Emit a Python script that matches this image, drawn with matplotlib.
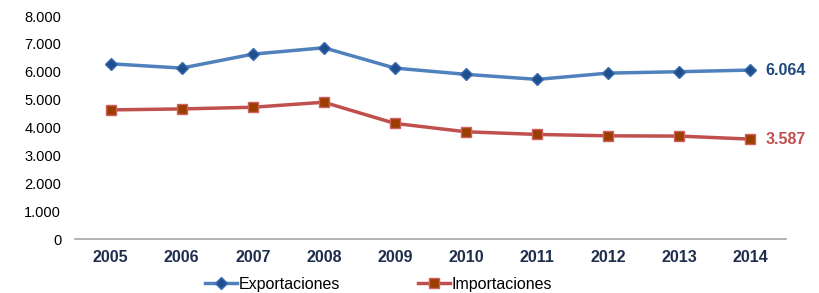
import matplotlib.pyplot as plt
from matplotlib.ticker import FuncFormatter

years = ['2005', '2006', '2007', '2008', '2009', '2010', '2011', '2012', '2013', '2014']
exportaciones = [6290, 6135, 6635, 6865, 6135, 5910, 5730, 5955, 6005, 6064]
importaciones = [4635, 4670, 4730, 4910, 4150, 3850, 3755, 3705, 3695, 3587]

plt.rcParams['font.family'] = ['Liberation Sans', 'DejaVu Sans']

fig = plt.figure(figsize=(8.2, 2.93), dpi=100)
ax = fig.add_axes([0.0915, 0.184, 0.867, 0.761])

x = range(len(years))
ax.plot(x, exportaciones, color='#4f81bd', lw=2.5, marker='D', ms=6.5,
        mfc='#1f4e8c', mec='#3a6bb0', label='Exportaciones')
ax.plot(x, importaciones, color='#c0504d', lw=2.5, marker='s', ms=6.5,
        mfc='#9c3d00', mec='#d06060', label='Importaciones')

ax.annotate('6.064', (x[-1], exportaciones[-1]), xytext=(11, 0), textcoords='offset points',
            va='center', ha='left', fontsize=11.5, fontweight='bold', color='#1f497d')
ax.annotate('3.587', (x[-1], importaciones[-1]), xytext=(11, 0), textcoords='offset points',
            va='center', ha='left', fontsize=11.5, fontweight='bold', color='#c0504d')

ax.set_xlim(-0.5, len(years) - 0.5)
ax.set_ylim(0, 8000)
ax.set_yticks(range(0, 8001, 1000))
ax.yaxis.set_major_formatter(FuncFormatter(lambda v, p: f'{int(v):,}'.replace(',', '.')))
ax.set_xticks(list(x))
ax.set_xticklabels(years, fontweight='bold', color='#1f2d4d', fontsize=11.5)
ax.tick_params(axis='y', labelsize=10.5, length=0, pad=10)
ax.tick_params(axis='x', length=0, pad=8)

for s in ['top', 'right', 'left']:
    ax.spines[s].set_visible(False)
ax.spines['bottom'].set_color('#a6a6a6')
ax.spines['bottom'].set_linewidth(1.2)

fig.legend(loc='center', bbox_to_anchor=(0.462, 0.03), ncol=2, frameon=False,
           fontsize=11.5, handlelength=2.0, handletextpad=0.1, columnspacing=4.9)

fig.savefig('out.png', dpi=100)
